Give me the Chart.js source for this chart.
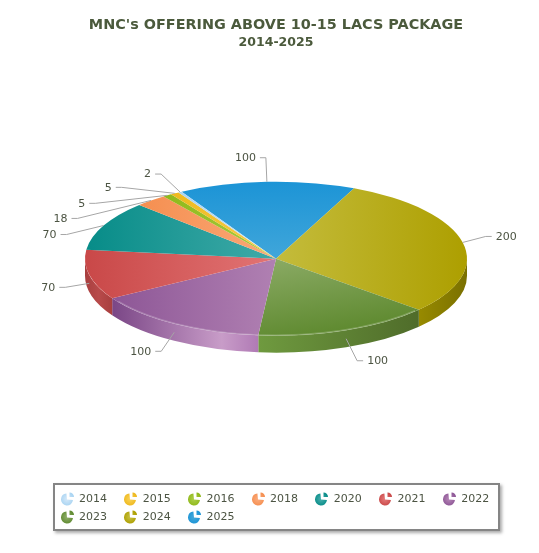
<!DOCTYPE html>
<html>
<head>
<meta charset="utf-8">
<script src="https://cdn.jsdelivr.net/npm/chart.js@4"></script>
<style>
html, body { margin: 0; padding: 0; background: #fff; }
#wrap { position: relative; width: 539px; height: 553px; }
#legend {
    position: absolute; left: 53px; top: 483px; width: 443px; height: 44px;
    border: 2px solid #858585; box-shadow: 2px 2px 3px #aaa; background: #fff;
    font: 11px "DejaVu Sans", sans-serif; color: #4c5443;
}
.item { position: absolute; height: 18px; line-height: 18px; }
.item canvas { position: absolute; left: 0; top: 1px; }
.item span { position: absolute; left: 18.5px; top: 0; }
</style>
</head>
<body>
<div id="wrap">
    <canvas id="pie" width="539" height="553"></canvas>
    <div id="legend"></div>
</div>
<script>
// Datos en orden de leyenda
const years = ['2014', '2015', '2016', '2018', '2020', '2021', '2022', '2023', '2024', '2025'];
const offers = [2, 5, 5, 18, 70, 70, 100, 100, 200, 100];
const outerColors = ['#a9d4f2', '#eeb81c', '#8fb81a', '#f58f50', '#078c88', '#c94848', '#8d5696', '#5f8a30', '#ad9f00', '#1c94d6'];
const innerColors = ['#cfe6f8', '#f8cf50', '#aacc44', '#faa878', '#40aaa8', '#e27474', '#b080b2', '#8aaa64', '#c4bc3c', '#40a6da'];
const sideDark = ['#8fb8d4', '#c49a10', '#74980e', '#cc7338', '#056a68', '#a83f3f', '#7a4686', '#4f6c2a', '#7a7000', '#1673a8'];
const sideLight = ['#b8dcf4', '#e8c040', '#a0c030', '#e89860', '#20908c', '#b84a4a', '#c89cc8', '#6f9a3f', '#978a00', '#2a90c8'];

// Cómo se ve el pastel y dónde van las etiquetas
const tilt = 77 / 191;
const depth = 17;
const knees = [[-19, -18], [-53, -6], [-72, 8], [-73.5, 18], [-37, 9], [-24, 4], [-13, 19], [11, 22], [23, -6], [-1, -24]];

const pieShape = {
    id: 'pieShape',
    beforeDatasetsDraw(chart) {
        const ctx = chart.ctx;
        const arcs = chart.getDatasetMeta(0).data;
        const cx = arcs[0].x, cy = arcs[0].y, r = arcs[0].outerRadius;

        // lado del pastel, solo la parte de adelante
        arcs.forEach((arc, n) => {
            const i = years.length - 1 - n;
            for (const shift of [0, Math.PI * 2, -Math.PI * 2]) {
                const a0 = Math.max(arc.startAngle + shift, 0);
                const a1 = Math.min(arc.endAngle + shift, Math.PI);
                if (a1 <= a0) continue;
                const x0 = cx + r * Math.cos(a0), x1 = cx + r * Math.cos(a1);
                const g = ctx.createLinearGradient(Math.min(x0, x1), 0, Math.max(x0, x1), 0);
                if (i === 6) {
                    g.addColorStop(0, sideDark[i]);
                    g.addColorStop(0.75, sideLight[i]);
                    g.addColorStop(1, '#b07ab5');
                } else if (i === 8 || i === 7) {
                    g.addColorStop(0, sideLight[i]);
                    g.addColorStop(1, sideDark[i]);
                } else {
                    g.addColorStop(0, sideDark[i]);
                    g.addColorStop(0.5, sideLight[i]);
                    g.addColorStop(1, sideDark[i]);
                }
                ctx.beginPath();
                ctx.ellipse(cx, cy, r, r * tilt, 0, a0, a1);
                ctx.ellipse(cx, cy + depth, r, r * tilt, 0, a1, a0, true);
                ctx.closePath();
                ctx.fillStyle = g;
                ctx.fill();
            }
        });

        // degradado de cada rebanada: horizontal a los lados, vertical arriba
        arcs.forEach((arc, n) => {
            const i = years.length - 1 - n;
            const mid = (arc.startAngle + arc.endAngle) / 2;
            let g;
            if (Math.abs(Math.cos(mid)) > 0.5) {
                const side = Math.cos(mid) > 0 ? 1 : -1;
                const crossesSide = side > 0
                    ? Math.cos(arc.startAngle) > 0 && Math.cos(arc.endAngle) > 0 && Math.sin(arc.startAngle) * Math.sin(arc.endAngle) < 0
                    : Math.cos(arc.startAngle) < 0 && Math.cos(arc.endAngle) < 0 && Math.sin(arc.startAngle) * Math.sin(arc.endAngle) < 0;
                const reach = crossesSide ? r : r * Math.max(Math.abs(Math.cos(arc.startAngle)), Math.abs(Math.cos(arc.endAngle)));
                g = ctx.createLinearGradient(cx + side * reach, cy, cx, cy);
            } else {
                g = ctx.createLinearGradient(cx + r * Math.cos(mid), cy + r * Math.sin(mid), cx, cy);
            }
            g.addColorStop(0, outerColors[i]);
            g.addColorStop(1, innerColors[i]);
            arc.options.backgroundColor = g;
            arc.options.borderColor = g;
        });

        ctx.save();
        ctx.translate(0, cy);
        ctx.scale(1, tilt);
        ctx.translate(0, -cy);
    },
    afterDatasetsDraw(chart) {
        const ctx = chart.ctx;
        ctx.restore();
        const arcs = chart.getDatasetMeta(0).data;
        const cx = arcs[0].x, cy = arcs[0].y, r = arcs[0].outerRadius;

        // brillo del borde de adelante, solo 2022 y 2023
        ctx.beginPath();
        ctx.ellipse(cx, cy, r - 1, r * tilt - 0.5, 0, 0.75, 2.55);
        ctx.strokeStyle = 'rgba(255,255,255,0.22)';
        ctx.lineWidth = 1.5;
        ctx.stroke();

        // etiquetas con su línea guía
        ctx.font = '11px "DejaVu Sans", sans-serif';
        ctx.textBaseline = 'middle';
        arcs.forEach((arc, n) => {
            const i = years.length - 1 - n;
            const mid = (arc.startAngle + arc.endAngle) / 2;
            const sx = cx + r * Math.cos(mid);
            const sy = cy + r * tilt * Math.sin(mid) + (Math.sin(mid) > 0.2 ? depth / 2 : 0);
            const kx = sx + knees[i][0], ky = sy + knees[i][1];
            const dir = Math.cos(mid) >= 0 && i !== 9 ? 1 : -1;
            ctx.beginPath();
            ctx.moveTo(sx, sy);
            ctx.lineTo(kx, ky);
            ctx.lineTo(kx + dir * 6, ky);
            ctx.strokeStyle = '#a6a6a6';
            ctx.lineWidth = 1;
            ctx.stroke();
            ctx.fillStyle = '#4c5443';
            ctx.textAlign = dir > 0 ? 'left' : 'right';
            ctx.fillText(String(offers[i]), kx + dir * 10, ky + 0.5);
        });
    }
};

new Chart(document.getElementById('pie'), {
    type: 'pie',
    data: {
        labels: years.slice().reverse(),
        datasets: [{
            data: offers.slice().reverse(),
            backgroundColor: outerColors.slice().reverse(),
            borderWidth: 0
        }]
    },
    plugins: [pieShape],
    options: {
        responsive: false,
        animation: false,
        rotation: -29.6,
        layout: { padding: { left: 85, right: 72, top: 0, bottom: 86 } },
        plugins: {
            legend: { display: false },
            tooltip: { enabled: false },
            title: {
                display: true,
                text: "MNC's OFFERING ABOVE 10-15 LACS PACKAGE",
                color: '#4b5a3c',
                font: { family: '"DejaVu Sans", sans-serif', size: 14.4, weight: 'bold', lineHeight: 1.2 },
                padding: { top: 16.5, bottom: 0 }
            },
            subtitle: {
                display: true,
                text: '2014-2025',
                color: '#4b5a3c',
                font: { family: '"DejaVu Sans", sans-serif', size: 12.5, weight: 'bold', lineHeight: 1.2 },
                padding: { top: 1.5, bottom: 0 }
            }
        }
    }
});

// Leyenda en HTML, los iconos son pastelitos
const legendBox = document.getElementById('legend');
years.forEach((y, i) => {
    const item = document.createElement('div');
    item.className = 'item';
    item.style.left = (5.5 + (i % 7) * 63.7) + 'px';
    item.style.top = (i < 7 ? 5 : 23) + 'px';
    const icon = document.createElement('canvas');
    icon.width = 15;
    icon.height = 15;
    const c = icon.getContext('2d');
    const g = c.createRadialGradient(6, 8, 1, 6, 8, 7);
    g.addColorStop(0, innerColors[i]);
    g.addColorStop(1, outerColors[i]);
    c.fillStyle = g;
    c.beginPath();
    c.moveTo(6, 8.5);
    c.arc(6, 8.5, 6, 0.1, -Math.PI / 2 - 0.1);
    c.closePath();
    c.fill();
    c.beginPath();
    c.moveTo(8.5, 6);
    c.arc(8.5, 6, 4.5, -Math.PI / 2, 0);
    c.closePath();
    c.fill();
    item.appendChild(icon);
    const label = document.createElement('span');
    label.textContent = y;
    item.appendChild(label);
    legendBox.appendChild(item);
});
</script>
</body>
</html>
